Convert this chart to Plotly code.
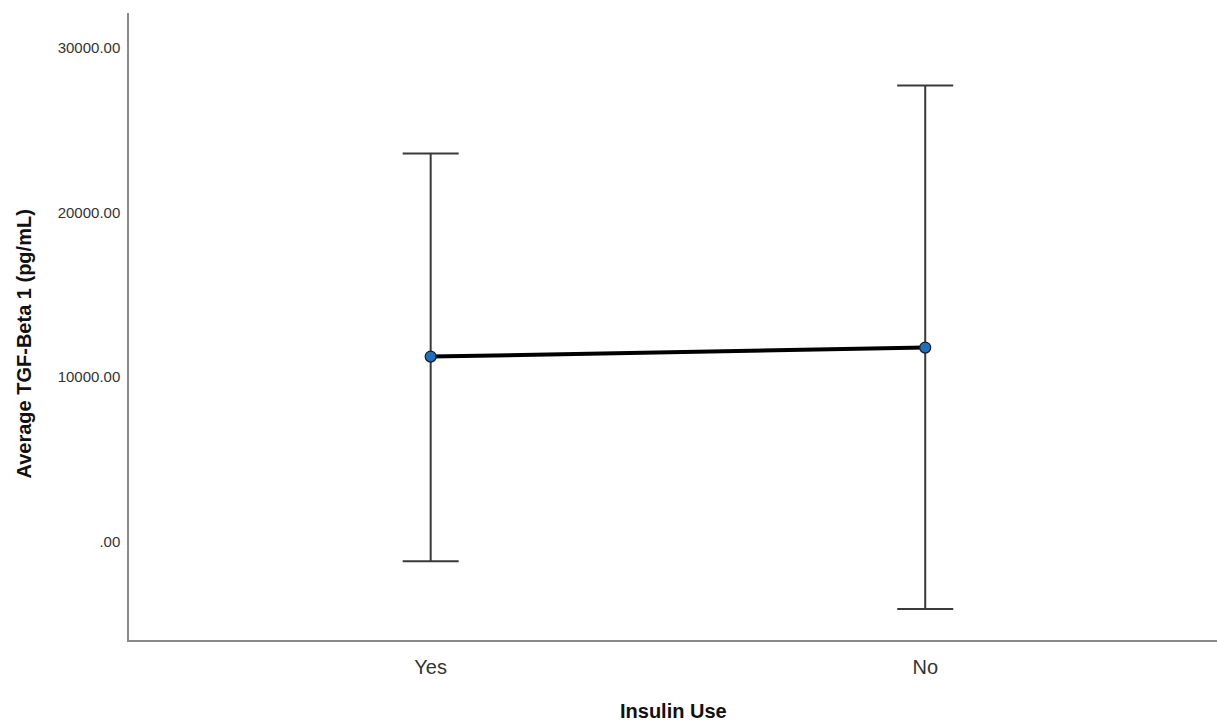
import plotly.graph_objects as go

# Insulin use groups and mean TGF-Beta 1 with interval bounds (pg/mL)
groups = ["Yes", "No"]
means = [11246, 11793]
upper = [23587, 27720]
lower = [-1191, -4091]

# y-axis ticks
ytick_vals = [0, 10000, 20000, 30000]
ytick_text = [".00", "10000.00", "20000.00", "30000.00"]

err_plus = [u - m for u, m in zip(upper, means)]
err_minus = [m - l for m, l in zip(means, lower)]

xpos = list(range(len(groups)))

fig = go.Figure()

# error bars
fig.add_trace(go.Scatter(
    x=xpos, y=means, mode="markers",
    marker=dict(size=1, color="rgba(0,0,0,0)"),
    error_y=dict(type="data", symmetric=False, array=err_plus, arrayminus=err_minus,
                 color="#3a3a3a", thickness=2, width=28),
    hoverinfo="skip", showlegend=False,
))

# mean line with points
fig.add_trace(go.Scatter(
    x=xpos, y=means, mode="lines+markers",
    line=dict(color="#000000", width=4),
    marker=dict(size=11, color="#1f6fc0", line=dict(color="#1a1a1a", width=1.2)),
    showlegend=False,
))

fig.update_layout(
    width=1217, height=723,
    margin=dict(l=129, r=0, t=13, b=83),
    plot_bgcolor="white", paper_bgcolor="white",
    font=dict(family="Arial, Liberation Sans, sans-serif", color="#222"),
    showlegend=False,
)

fig.update_xaxes(
    range=[-0.61, 1.59],
    tickvals=xpos, ticktext=groups,
    showgrid=False, zeroline=False,
    showline=True, linecolor="#8a8a8a", linewidth=1.5,
    ticks="", ticklabelstandoff=8,
    tickfont=dict(size=20, color="#333"),
)

fig.update_yaxes(
    range=[-5976, 32122],
    tickvals=ytick_vals, ticktext=ytick_text,
    showgrid=False, zeroline=False,
    showline=True, linecolor="#8a8a8a", linewidth=1.5,
    ticks="", ticklabelstandoff=4,
    tickfont=dict(size=15, color="#333"),
)

# axis titles
fig.add_annotation(
    text="<b>Insulin Use</b>", xref="paper", yref="paper", x=0.5, y=0,
    xanchor="center", yanchor="middle", yshift=-71, showarrow=False,
    font=dict(size=20, color="#111"),
)
fig.add_annotation(
    text="<b>Average TGF-Beta 1 (pg/mL)</b>", xref="paper", yref="paper", x=0, y=0.5,
    xanchor="center", yanchor="middle", xshift=-106, yshift=-18, textangle=-90,
    showarrow=False, font=dict(size=20, color="#111"),
)

fig.write_html("out.html")
